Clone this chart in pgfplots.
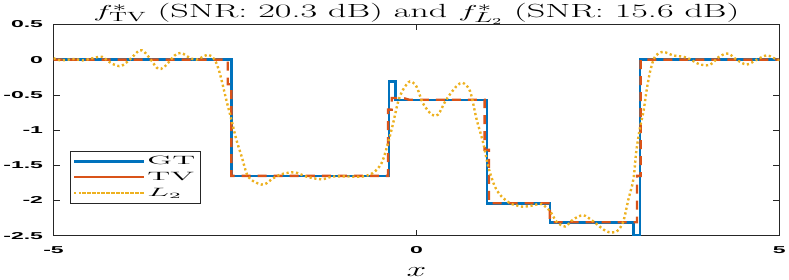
\documentclass[border=0pt]{standalone}
\usepackage{pgfplots}
\pgfplotsset{compat=1.18}
\usepackage{fontspec}
\setsansfont{Liberation Sans}
\usepackage{graphicx}
\definecolor{mblue}{rgb}{0,0.447,0.741}
\definecolor{morange}{rgb}{0.85,0.325,0.098}
\definecolor{myellow}{rgb}{0.929,0.694,0.125}
\definecolor{axgray}{rgb}{0.15,0.15,0.15}
\newcommand{\tickfont}{\sffamily\bfseries\fontsize{10}{11}\selectfont}
\newcommand{\tl}[1]{\scalebox{2.3}[1]{\tickfont #1}}
\newcommand{\sx}[1]{\scalebox{1.9}[1]{#1}}
\newcommand{\lx}[1]{\scalebox{2.7}[1]{#1}\hspace{8pt}}
\tikzset{tvline/.style={morange, line width=2.4pt, line cap=butt, dash pattern={on 9pt off 7pt}}}
\begin{document}
\begin{tikzpicture}
\begin{axis}[
  scale only axis, width=725pt, height=211pt,
  xmin=-5, xmax=5, ymin=-2.5, ymax=0.5,
  xtick={-5,0,5}, ytick={-2.5,-2,-1.5,-1,-0.5,0,0.5},
  xticklabels={\tl{-5},\tl{0},\tl{5}},
  yticklabels={\tl{-2.5},\tl{-2},\tl{-1.5},\tl{-1},\tl{-0.5},\tl{0},\tl{0.5}},
  tick align=inside, major tick length=6pt,
  tick style={axgray, line width=0.5pt},
  axis line style={axgray, line width=0.6pt},
  xticklabel style={yshift=-7pt},
  yticklabel style={xshift=-7pt},
  title={\sx{$f^*_{\mathrm{TV}}$ (SNR: 20.3 dB) and $f^*_{L_2}$ (SNR: 15.6 dB)}},
  title style={font=\fontsize{19}{22}\selectfont, yshift=-10pt},
  xlabel={\scalebox{1.7}[1]{$x$}},
  xlabel style={font=\fontsize{20}{22}\selectfont, yshift=-7pt},
  legend style={at={(0.022,0.40)}, anchor=north west, draw=axgray, line width=0.6pt,
    font=\fontsize{12}{13}\selectfont, row sep=2pt, inner sep=3pt},
  legend cell align=left,
  legend image code/.code={\path (0pt,0pt) -- (70pt,0pt); \draw[#1] (8pt,0pt) -- (69pt,0pt);},
]
\addplot[mblue, line width=2.6pt, line join=miter] coordinates {
(-5,0) (-2.55,0) (-2.55,-1.65) (-0.38,-1.65) (-0.38,-0.31) (-0.29,-0.31) (-0.29,-0.575)
(0.97,-0.575) (0.97,-2.045) (1.84,-2.045) (1.84,-2.315) (2.99,-2.315) (2.99,-2.5)
(3.08,-2.5) (3.08,0) (5,0)};
\addlegendentry{\lx{GT}}
\addplot[tvline] coordinates {
(-5,0) (-2.60,0) (-2.60,-0.35) (-2.55,-0.35) (-2.55,-1.65) (-0.39,-1.65) (-0.39,-0.71)
(-0.34,-0.71) (-0.34,-0.545) (-0.18,-0.545) (-0.1,-0.57) (0.94,-0.57) (0.94,-1.28)
(1.0,-1.28) (1.0,-2.04) (1.84,-2.04) (1.84,-2.31) (3.04,-2.31) (3.04,-1.65)
(3.09,-1.65) (3.09,0) (5,0)};
\addlegendentry{\lx{TV}}
\addplot[myellow, line width=2.4pt, line cap=butt, dash pattern={on 2.2pt off 2.6pt}, smooth, tension=0.5] coordinates {
(-5.00,0.02) (-4.90,-0.01) (-4.71,0.01) (-4.60,-0.01) (-4.42,0.03) (-4.33,0.04)
(-4.19,-0.06) (-4.07,-0.09) (-3.95,0.0) (-3.82,0.13) (-3.75,0.11) (-3.66,0.0)
(-3.56,-0.13) (-3.47,-0.10) (-3.33,0.06) (-3.24,0.095) (-3.13,0.03) (-3.03,0.0)
(-2.87,0.07) (-2.78,0.0) (-2.71,-0.19) (-2.62,-0.57) (-2.55,-0.85) (-2.48,-1.14)
(-2.41,-1.37) (-2.32,-1.66) (-2.18,-1.76) (-2.09,-1.77) (-1.98,-1.69) (-1.87,-1.63)
(-1.68,-1.60) (-1.52,-1.66) (-1.31,-1.70) (-1.15,-1.66) (-0.92,-1.66) (-0.74,-1.66)
(-0.60,-1.61) (-0.48,-1.47) (-0.39,-1.18) (-0.32,-0.90) (-0.25,-0.59) (-0.18,-0.42)
(-0.09,-0.31) (0.00,-0.38) (0.09,-0.62) (0.21,-0.78) (0.30,-0.78) (0.41,-0.57)
(0.55,-0.38) (0.64,-0.33) (0.74,-0.45) (0.83,-0.85) (0.92,-1.18) (0.99,-1.52)
(1.08,-1.80) (1.17,-1.94) (1.29,-2.04) (1.38,-2.07) (1.47,-2.09) (1.61,-2.07)
(1.72,-2.05) (1.84,-2.15) (1.93,-2.30) (2.05,-2.37) (2.16,-2.27) (2.30,-2.21)
(2.44,-2.30) (2.62,-2.44) (2.76,-2.44) (2.85,-2.30) (2.92,-1.99) (2.99,-1.70)
(3.03,-1.30) (3.08,-0.97) (3.13,-0.73) (3.17,-0.45) (3.22,-0.17) (3.29,0.05)
(3.40,0.11) (3.54,0.06) (3.72,0.03) (3.91,-0.07) (4.05,-0.07) (4.18,0.05)
(4.30,0.085) (4.41,0.0) (4.55,-0.07) (4.69,0.0) (4.83,0.06) (4.97,0.0) (5.00,0.0)};
\addlegendentry{\lx{$L_2$}}
\end{axis}
\end{tikzpicture}
\end{document}
